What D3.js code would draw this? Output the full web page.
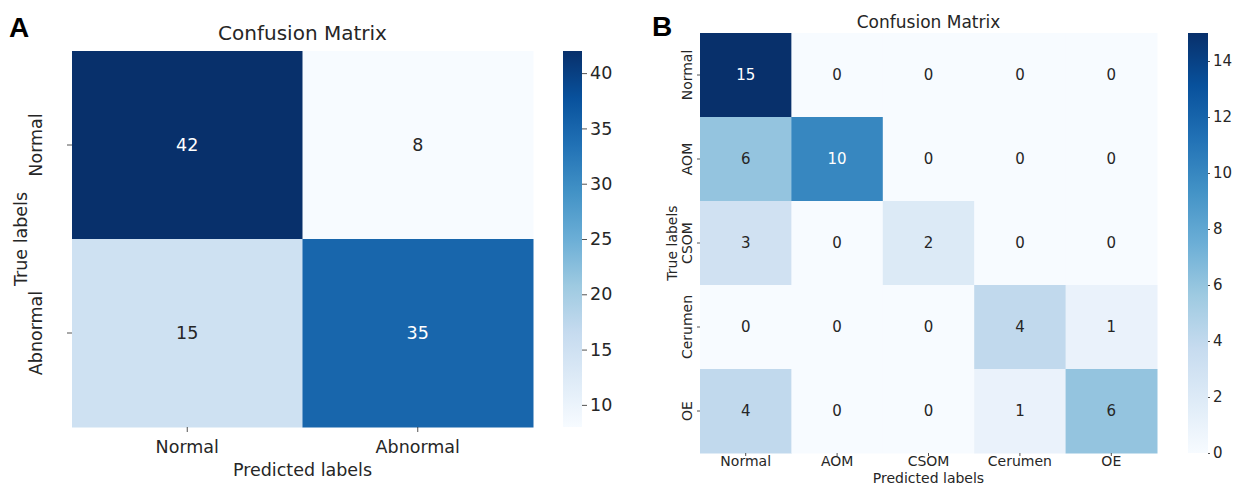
<!DOCTYPE html>
<html>
<head>
<meta charset="utf-8">
<script src="https://cdn.jsdelivr.net/npm/d3@7"></script>
<style>
  html, body { margin: 0; padding: 0; background: #ffffff; }
  svg { display: block; font-family: "DejaVu Sans", sans-serif; }
</style>
</head>
<body>
<svg id="chart" width="1234" height="487"></svg>
<script>
// ---- data ----
const labelsA = ["Normal", "Abnormal"];
const matrixA = [
  [42, 8],
  [15, 35]
];
const cbTicksA = [10, 15, 20, 25, 30, 35, 40];

const labelsB = ["Normal", "AOM", "CSOM", "Cerumen", "OE"];
const matrixB = [
  [15, 0, 0, 0, 0],
  [6, 10, 0, 0, 0],
  [3, 0, 2, 0, 0],
  [0, 0, 0, 4, 1],
  [4, 0, 0, 1, 6]
];
const cbTicksB = [0, 2, 4, 6, 8, 10, 12, 14];

// "Blues" colormap stops
const bluesStops = ["#f7fbff", "#deebf7", "#c6dbef", "#9ecae1", "#6baed6",
                    "#4292c6", "#2171b5", "#08519c", "#08306b"];

const svg = d3.select("#chart");
const textDark = "#262626";

function luminance(c) {
  const rgb = d3.rgb(c);
  const f = v => { v /= 255; return v <= 0.03928 ? v / 12.92 : Math.pow((v + 0.055) / 1.055, 2.4); };
  return 0.2126 * f(rgb.r) + 0.7152 * f(rgb.g) + 0.0722 * f(rgb.b);
}

let gradId = 0;
function drawPanel(cfg) {
  const { labels, matrix, cbTicks, box, cb, fs, axisFs, titleFs, titleY, letter, letterPos,
          yLabelX, yTitleX, xLabelY, xTitleY, tickLen, cbTickLen } = cfg;
  const flat = matrix.flat();
  const vmin = d3.min(flat), vmax = d3.max(flat);
  const color = d3.scaleLinear()
    .domain(d3.range(bluesStops.length).map(i => vmin + (vmax - vmin) * i / (bluesStops.length - 1)))
    .range(bluesStops)
    .interpolate(d3.interpolateRgb)
    .clamp(true);

  const x = d3.scaleBand().domain(labels).range([box.x0, box.x1]);
  const y = d3.scaleBand().domain(labels).range([box.y0, box.y1]);
  const g = svg.append("g");

  // panel letter
  g.append("text")
    .attr("x", letterPos[0]).attr("y", letterPos[1])
    .attr("font-family", "'Liberation Sans', Arial, sans-serif")
    .attr("font-weight", "bold").attr("font-size", 28)
    .attr("fill", "#000").text(letter);

  // title
  g.append("text")
    .attr("x", (box.x0 + box.x1) / 2).attr("y", titleY)
    .attr("text-anchor", "middle").attr("font-size", titleFs)
    .attr("fill", textDark).text("Confusion Matrix");

  // cells
  const cells = [];
  matrix.forEach((row, i) => row.forEach((v, j) => cells.push({ r: labels[i], c: labels[j], v })));
  g.selectAll("rect.cell").data(cells).enter().append("rect")
    .attr("class", "cell")
    .attr("x", d => x(d.c)).attr("y", d => y(d.r))
    .attr("width", x.bandwidth() + 0.5).attr("height", y.bandwidth() + 0.5)
    .attr("fill", d => color(d.v));

  g.selectAll("text.val").data(cells).enter().append("text")
    .attr("class", "val")
    .attr("x", d => x(d.c) + x.bandwidth() / 2)
    .attr("y", d => y(d.r) + y.bandwidth() / 2)
    .attr("dy", "0.36em")
    .attr("text-anchor", "middle").attr("font-size", fs)
    .attr("fill", d => luminance(color(d.v)) > 0.408 ? textDark : "#ffffff")
    .text(d => d.v);

  // x axis
  const xAxis = g.append("g").attr("transform", `translate(0,${box.y1})`)
    .call(d3.axisBottom(x).tickSize(tickLen).tickPadding(xLabelY - box.y1 - tickLen));
  xAxis.select(".domain").remove();
  xAxis.selectAll(".tick line").attr("stroke", textDark).attr("stroke-width", 0.8);
  xAxis.selectAll(".tick text").attr("font-size", axisFs).attr("fill", textDark)
    .attr("font-family", "'DejaVu Sans', sans-serif").attr("dy", "0.35em");

  // y axis
  const yAxis = g.append("g").attr("transform", `translate(${box.x0},0)`)
    .call(d3.axisLeft(y).tickSize(tickLen).tickPadding(0));
  yAxis.select(".domain").remove();
  yAxis.selectAll(".tick line").attr("stroke", textDark).attr("stroke-width", 0.8);
  yAxis.selectAll(".tick text")
    .attr("font-size", axisFs).attr("fill", textDark)
    .attr("font-family", "'DejaVu Sans', sans-serif")
    .attr("x", null).attr("dy", null)
    .attr("text-anchor", "middle")
    .attr("transform", `translate(${yLabelX - box.x0},0) rotate(-90)`)
    .attr("dominant-baseline", "central");

  // axis titles
  g.append("text")
    .attr("x", (box.x0 + box.x1) / 2).attr("y", xTitleY)
    .attr("dy", "0.35em")
    .attr("text-anchor", "middle").attr("font-size", axisFs).attr("fill", textDark)
    .text("Predicted labels");
  g.append("text")
    .attr("transform", `translate(${yTitleX},${(box.y0 + box.y1) / 2}) rotate(-90)`)
    .attr("text-anchor", "middle").attr("dominant-baseline", "central")
    .attr("font-size", axisFs).attr("fill", textDark)
    .text("True labels");

  // colorbar
  const id = "grad" + (gradId++);
  const grad = svg.append("defs").append("linearGradient")
    .attr("id", id).attr("x1", 0).attr("x2", 0).attr("y1", 1).attr("y2", 0);
  bluesStops.forEach((c, i) => grad.append("stop")
    .attr("offset", i / (bluesStops.length - 1)).attr("stop-color", c));
  g.append("rect")
    .attr("x", cb.x0).attr("y", box.y0)
    .attr("width", cb.x1 - cb.x0).attr("height", box.y1 - box.y0)
    .attr("fill", `url(#${id})`);
  const cbScale = d3.scaleLinear().domain([vmin, vmax]).range([box.y1, box.y0]);
  const cbAxis = g.append("g").attr("transform", `translate(${cb.x1},0)`)
    .call(d3.axisRight(cbScale).tickValues(cbTicks).tickSize(cbTickLen).tickPadding(3));
  cbAxis.select(".domain").remove();
  cbAxis.selectAll(".tick line").attr("stroke", textDark).attr("stroke-width", 0.8);
  cbAxis.selectAll(".tick text").attr("font-size", fs).attr("fill", textDark)
    .attr("font-family", "'DejaVu Sans', sans-serif");
}

drawPanel({
  labels: labelsA, matrix: matrixA, cbTicks: cbTicksA,
  box: { x0: 72, x1: 533, y0: 51, y1: 427 },
  cb: { x0: 563, x1: 582 },
  fs: 17.5, axisFs: 17.5, titleFs: 20, titleY: 40,
  letter: "A", letterPos: [9, 37],
  yLabelX: 36, yTitleX: 21, xLabelY: 447, xTitleY: 470,
  tickLen: 5, cbTickLen: 5
});

drawPanel({
  labels: labelsB, matrix: matrixB, cbTicks: cbTicksB,
  box: { x0: 700, x1: 1157, y0: 33, y1: 453 },
  cb: { x0: 1188, x1: 1208 },
  fs: 15, axisFs: 14, titleFs: 17, titleY: 28,
  letter: "B", letterPos: [652, 36],
  yLabelX: 687, yTitleX: 672, xLabelY: 461.5, xTitleY: 478.5,
  tickLen: 3, cbTickLen: 2
});
</script>
</body>
</html>
